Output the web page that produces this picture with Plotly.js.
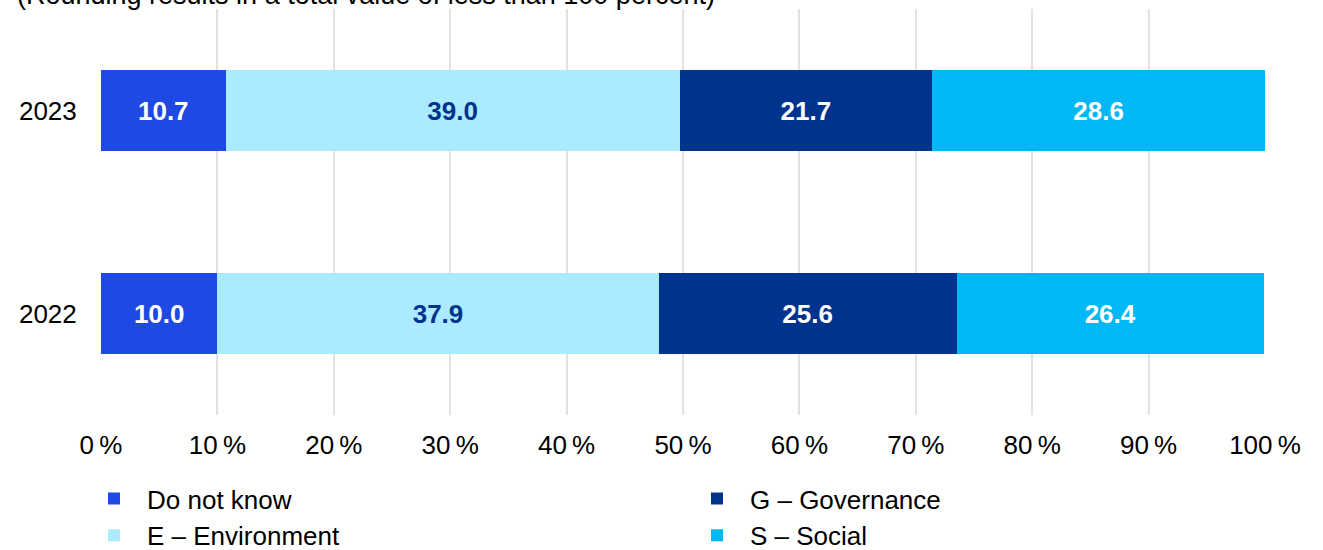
<!DOCTYPE html>
<html>
<head>
<meta charset="utf-8">
<script src="https://cdn.plot.ly/plotly-3.0.1.min.js"></script>
<style>
html,body{margin:0;padding:0;background:#fff;}
#chart{width:1323px;height:550px;}
</style>
</head>
<body>
<div id="chart"></div>
<script>
const years = ["2022", "2023"];
const seriesNames = ["Do not know", "E \u2013 Environment", "G \u2013 Governance", "S \u2013 Social"];
const doNotKnow = [10.0, 10.7];
const environment = [37.9, 39.0];
const governance = [25.6, 21.7];
const social = [26.4, 28.6];
const xTicks = [0, 10, 20, 30, 40, 50, 60, 70, 80, 90, 100];
const xTickLabels = xTicks.map(v => v + "\u2009%");
const titleText = "(Rounding results in a total value of less than 100 percent)";

const colors = ["#1e49e2", "#aceaff", "#00338d", "#00b8f5"];
const textColors = ["#ffffff", "#00338d", "#ffffff", "#ffffff"];
const ranks = [1, 3, 2, 4];
const values = [doNotKnow, environment, governance, social];
const FONT = "Arial, 'Liberation Sans', sans-serif";

const data = values.map((vals, i) => ({
  type: "bar",
  orientation: "h",
  name: "\u2002" + seriesNames[i],
  y: years,
  x: vals,
  marker: {color: colors[i]},
  text: vals.map(v => v.toFixed(1)),
  textposition: "inside",
  insidetextanchor: "middle",
  textangle: 0,
  constraintext: "none",
  textfont: {family: FONT, size: 26, color: textColors[i], weight: "bold"},
  legendrank: ranks[i],
  hoverinfo: "x+name"
}));

const layout = {
  width: 1323,
  height: 550,
  margin: {l: 101, r: 58, t: 9, b: 135, autoexpand: false},
  paper_bgcolor: "#ffffff",
  plot_bgcolor: "#ffffff",
  barmode: "stack",
  bargap: 0.6,
  font: {family: FONT, size: 26, color: "#000000"},
  xaxis: {
    range: [0, 100],
    tickvals: xTicks,
    ticktext: xTickLabels,
    showgrid: true,
    gridcolor: "#e3e3e3",
    gridwidth: 2,
    zeroline: false,
    showline: false,
    ticks: "outside",
    ticklen: 7,
    tickcolor: "rgba(0,0,0,0)",
    tickfont: {family: FONT, size: 26, color: "#000"},
    fixedrange: true
  },
  yaxis: {
    type: "category",
    categoryorder: "array",
    categoryarray: years,
    range: [-0.5, 1.5],
    showgrid: false,
    zeroline: false,
    showline: false,
    ticks: "outside",
    ticklen: 18,
    tickcolor: "rgba(0,0,0,0)",
    tickfont: {family: FONT, size: 26, color: "#000"},
    fixedrange: true
  },
  legend: {
    orientation: "h",
    traceorder: "normal",
    x: -0.006,
    xanchor: "left",
    y: -0.148,
    yanchor: "top",
    entrywidth: 558,
    entrywidthmode: "pixels",
    font: {family: FONT, size: 26, color: "#000"},
    bgcolor: "rgba(0,0,0,0)"
  },
  annotations: [{
    text: titleText,
    xref: "paper",
    yref: "paper",
    x: -0.0739,
    y: 0.9926,
    xanchor: "left",
    yanchor: "bottom",
    showarrow: false,
    font: {family: FONT, size: 27, color: "#000"}
  }],
  showlegend: true
};

Plotly.newPlot("chart", data, layout, {displayModeBar: false, staticPlot: true});
</script>
</body>
</html>
